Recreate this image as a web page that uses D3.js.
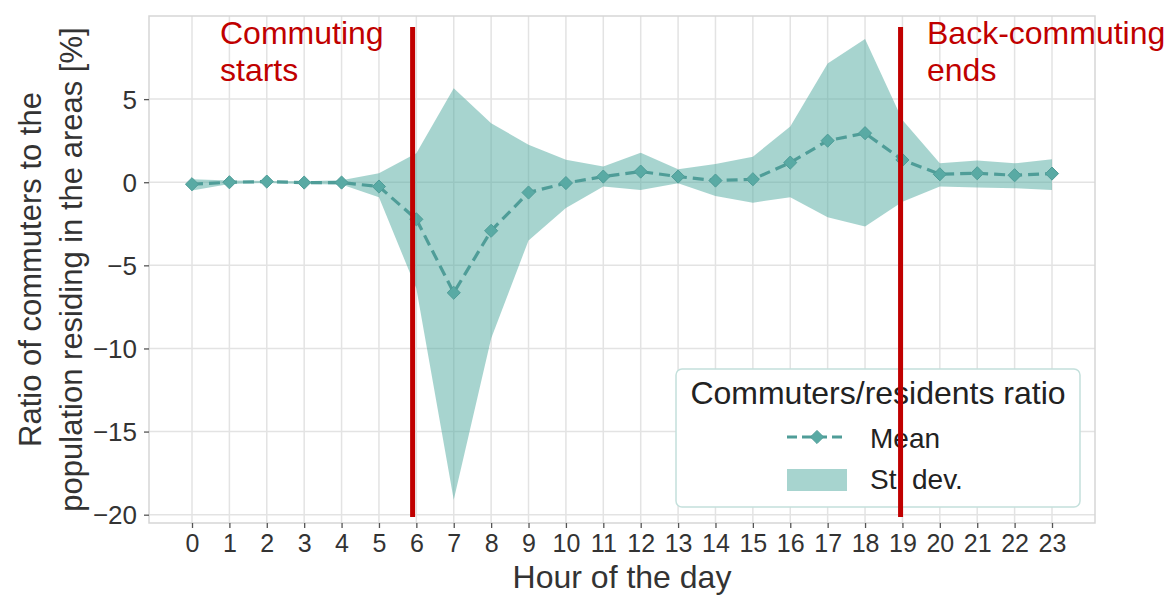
<!DOCTYPE html>
<html>
<head>
<meta charset="utf-8">
<script src="https://cdn.jsdelivr.net/npm/d3@7"></script>
<style>
  html, body { margin: 0; padding: 0; background: #fff; }
  svg { display: block; font-family: "Liberation Sans", Arial, sans-serif; }
</style>
</head>
<body>
<svg id="chart" width="1173" height="595"></svg>
<script>
// Hour of the day
const hours = d3.range(0, 24);
// Mean commuters/residents ratio [%]
const meanRatio = [-0.12, 0.0, 0.04, -0.02, -0.02, -0.26, -2.23, -6.65, -2.92, -0.62, -0.05, 0.34,
                   0.64, 0.34, 0.10, 0.18, 1.18, 2.50, 2.95, 1.34, 0.48, 0.54, 0.42, 0.52];
// Upper and lower edges of the standard-deviation band [%]
const bandUpper = [0.18, 0.10, 0.08, 0.06, 0.12, 0.54, 1.75, 5.66, 3.55, 2.25, 1.35, 0.94,
                   1.78, 0.78, 1.10, 1.54, 3.35, 7.15, 8.61, 3.75, 1.14, 1.30, 1.14, 1.38];
const bandLower = [-0.50, -0.10, -0.04, -0.10, -0.14, -0.90, -6.40, -19.10, -9.40, -3.50, -1.55, -0.26,
                   -0.46, -0.06, -0.83, -1.23, -0.90, -2.10, -2.67, -1.17, -0.26, -0.32, -0.36, -0.46];
const yTicks = [-20, -15, -10, -5, 0, 5];
// Annotated phases: position on the hour axis and label lines
const markerHours = [5.9, 18.95];
const markerLabels = [["Commuting", "starts"], ["Back-commuting", "ends"]];

const svg = d3.select("#chart");
const plot = { left: 149, right: 1095, top: 16, bottom: 523 };

const x = d3.scaleLinear().domain([-1.15, 24.15]).range([plot.left, plot.right]);
const y = d3.scaleLinear().domain([-20.5, 10]).range([plot.bottom, plot.top]);

const gridColor = "#e3e3e3";
const tealLine = "#4f9d98";
const tealMarker = "#59aaa4";
const bandFill = "rgb(80,170,160)";

// grid
const grid = svg.append("g");
grid.selectAll("line.v").data(hours).join("line")
  .attr("x1", d => x(d)).attr("x2", d => x(d))
  .attr("y1", plot.top).attr("y2", plot.bottom)
  .attr("stroke", gridColor).attr("stroke-width", 1.5);
grid.selectAll("line.h").data(yTicks).join("line")
  .attr("x1", plot.left).attr("x2", plot.right)
  .attr("y1", d => y(d)).attr("y2", d => y(d))
  .attr("stroke", gridColor).attr("stroke-width", 1.5);

// frame
svg.append("rect")
  .attr("x", plot.left).attr("y", plot.top)
  .attr("width", plot.right - plot.left).attr("height", plot.bottom - plot.top)
  .attr("fill", "none").attr("stroke", "#d6d6d6").attr("stroke-width", 1.5);

// axes
const xAxis = svg.append("g").attr("transform", `translate(0,${plot.bottom})`)
  .call(d3.axisBottom(x).tickValues(hours).tickFormat(d3.format("d")).tickSize(5).tickPadding(6));
const yAxis = svg.append("g").attr("transform", `translate(${plot.left},0)`)
  .call(d3.axisLeft(y).tickValues(yTicks).tickFormat(d => d < 0 ? "\u2212" + Math.abs(d) : d).tickSize(5).tickPadding(7));
[xAxis, yAxis].forEach(a => {
  a.select(".domain").remove();
  a.selectAll(".tick line").attr("stroke", "#555").attr("stroke-width", 1.3);
  a.selectAll(".tick text").attr("fill", "#333")
    .attr("font-family", "'Liberation Sans', Arial, sans-serif");
});
xAxis.selectAll(".tick text").attr("font-size", 25).attr("dy", "0.71em");
yAxis.selectAll(".tick text").attr("font-size", 26).attr("dy", "0.35em");

// standard deviation band
const area = d3.area()
  .x((d, i) => x(hours[i]))
  .y0((d, i) => y(bandLower[i]))
  .y1((d, i) => y(bandUpper[i]));
svg.append("path").datum(hours).attr("d", area)
  .attr("fill", bandFill).attr("fill-opacity", 0.5);

// mean line
const line = d3.line().x((d, i) => x(hours[i])).y((d, i) => y(meanRatio[i]));
svg.append("path").datum(meanRatio).attr("d", line)
  .attr("fill", "none").attr("stroke", tealLine).attr("stroke-width", 3.2)
  .attr("stroke-dasharray", "11,6");

const diamond = d3.symbol().type(d3.symbolDiamond2).size(110);
svg.append("g").selectAll("path").data(meanRatio).join("path")
  .attr("d", diamond)
  .attr("transform", (d, i) => `translate(${x(hours[i])},${y(d)})`)
  .attr("fill", tealMarker).attr("stroke", tealLine).attr("stroke-width", 1);

// axis titles
svg.append("text").attr("x", (plot.left + plot.right) / 2).attr("y", 588)
  .attr("text-anchor", "middle").attr("font-size", 32).attr("fill", "#333")
  .text("Hour of the day");
const yTitle = svg.append("text").attr("text-anchor", "middle").attr("font-size", 31).attr("fill", "#333")
  .attr("transform", `translate(0,${(plot.top + plot.bottom) / 2}) rotate(-90)`);
yTitle.append("tspan").attr("x", 0).attr("y", 41).text("Ratio of commuters to the");
yTitle.append("tspan").attr("x", 0).attr("y", 82).text("population residing in the areas [%]");

// legend
const lg = svg.append("g");
lg.append("rect").attr("x", 676).attr("y", 369).attr("width", 404).attr("height", 138)
  .attr("rx", 6).attr("fill", "#fff").attr("stroke", "#c4e0dc").attr("stroke-width", 1.5);
lg.append("text").attr("x", 878).attr("y", 404).attr("text-anchor", "middle")
  .attr("font-size", 32).attr("fill", "#222").text("Commuters/residents ratio");
lg.append("line").attr("x1", 787).attr("x2", 847).attr("y1", 437).attr("y2", 437)
  .attr("stroke", tealLine).attr("stroke-width", 3.2).attr("stroke-dasharray", "10,5");
lg.append("path").attr("d", diamond).attr("transform", "translate(817,437)")
  .attr("fill", tealMarker).attr("stroke", tealLine).attr("stroke-width", 1);
lg.append("rect").attr("x", 787).attr("y", 469).attr("width", 60).attr("height", 22)
  .attr("fill", bandFill).attr("fill-opacity", 0.5);
lg.append("text").attr("x", 870).attr("y", 448).attr("font-size", 28).attr("fill", "#222").text("Mean");
lg.append("text").attr("x", 870).attr("y", 489).attr("font-size", 28).attr("fill", "#222").text("St. dev.");

// phase markers
const red = "#c00000";
svg.append("g").selectAll("line").data(markerHours).join("line")
  .attr("x1", d => x(d)).attr("x2", d => x(d))
  .attr("y1", 27).attr("y2", 517)
  .attr("stroke", red).attr("stroke-width", 5);
const labelX = [220, 927];
markerLabels.forEach((lines, k) => {
  const t = svg.append("text").attr("font-size", 32).attr("fill", red);
  lines.forEach((s, j) => t.append("tspan").attr("x", labelX[k]).attr("y", 44 + j * 37).text(s));
});
</script>
</body>
</html>
